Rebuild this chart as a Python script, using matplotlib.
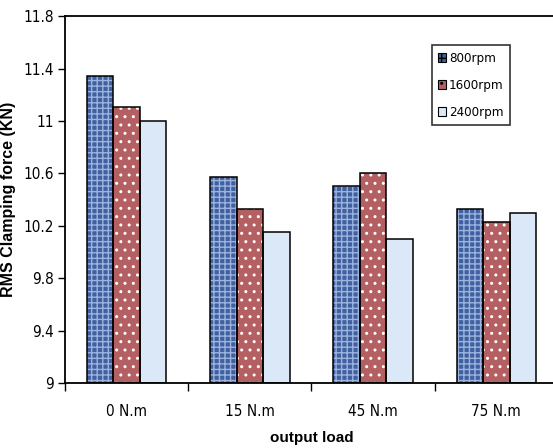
import numpy as np
import matplotlib
matplotlib.use("Agg")
import matplotlib.pyplot as plt

# RMS clamping force (kN) per output load, one series per motor speed
loads = ["0 N.m", "15 N.m", "45 N.m", "75 N.m"]
speeds = ["800rpm", "1600rpm", "2400rpm"]
force_800 = [11.34, 10.57, 10.50, 10.33]
force_1600 = [11.11, 10.33, 10.60, 10.23]
force_2400 = [11.00, 10.15, 10.10, 10.30]
y_ticks = [9, 9.4, 9.8, 10.2, 10.6, 11, 11.4, 11.8]
y_tick_labels = ["9", "9.4", "9.8", "10.2", "10.6", "11", "11.4", "11.8"]

series = [force_800, force_1600, force_2400]
# (face, hatch colour, hatch)
styles = [("#41609f", "#9bb3de", "+++"),
          ("#b45f62", "#ffffff", ".."),
          ("#dbe8f7", "#eef4fb", "")]

narrow = dict(family="DejaVu Sans", stretch="condensed")
bold = ["Liberation Sans", "DejaVu Sans"]

fig = plt.figure(figsize=(5.53, 4.48), dpi=100)
ax = fig.add_axes([0.1175, 0.145, 0.8915, 0.819])

x = np.arange(len(loads))
w = 0.215
for i, (vals, (face, hcol, hatch)) in enumerate(zip(series, styles)):
    pos = x + (i - 1) * w
    heights = np.array(vals) - 9
    ax.bar(pos, heights, w, bottom=9, color=face, edgecolor=hcol,
           hatch=hatch, linewidth=0, zorder=2)
    ax.bar(pos, heights, w, bottom=9, fill=False, edgecolor="black",
           linewidth=1.1, zorder=3, label=speeds[i])

ax.set_xlim(-0.5, 3.5)
ax.set_ylim(9, 11.8)
ax.set_yticks(y_ticks)
ax.set_yticklabels(y_tick_labels, fontsize=11, **narrow)
ax.set_xticks(x)
ax.set_xticklabels(loads, fontsize=11, **narrow)
ax.set_xticks(np.arange(-0.5, 4.0, 1.0), minor=True)
ax.tick_params(axis="x", which="major", length=0, pad=15)
ax.tick_params(axis="x", which="minor", length=6, width=1, direction="out")
ax.tick_params(axis="y", length=5, width=1, direction="out", pad=3)

ax.spines["right"].set_visible(False)
for side in ("left", "bottom", "top"):
    ax.spines[side].set_linewidth(1.3)

ax.set_ylabel("RMS Clamping force (KN)", family=bold, fontweight="bold",
              fontsize=11.5)
ax.yaxis.set_label_coords(-0.1, 0.5)
ax.set_xlabel("output load", family=bold, fontweight="bold", fontsize=11,
              labelpad=9)

handles = [plt.Rectangle((0, 0), 1, 1, facecolor=f, edgecolor="black",
                         hatch=h, linewidth=0.8) for f, _, h in styles]
leg = ax.legend(handles, speeds, loc="upper left",
                bbox_to_anchor=(0.744, 0.92), frameon=True, fancybox=False,
                handlelength=0.55, handleheight=0.7, handletextpad=0.25,
                labelspacing=1.05, borderpad=0.5, borderaxespad=0,
                prop=dict(size=9.5, **narrow))
leg.get_frame().set_edgecolor("black")
leg.get_frame().set_linewidth(1.2)

fig.savefig("out.png", dpi=100)
